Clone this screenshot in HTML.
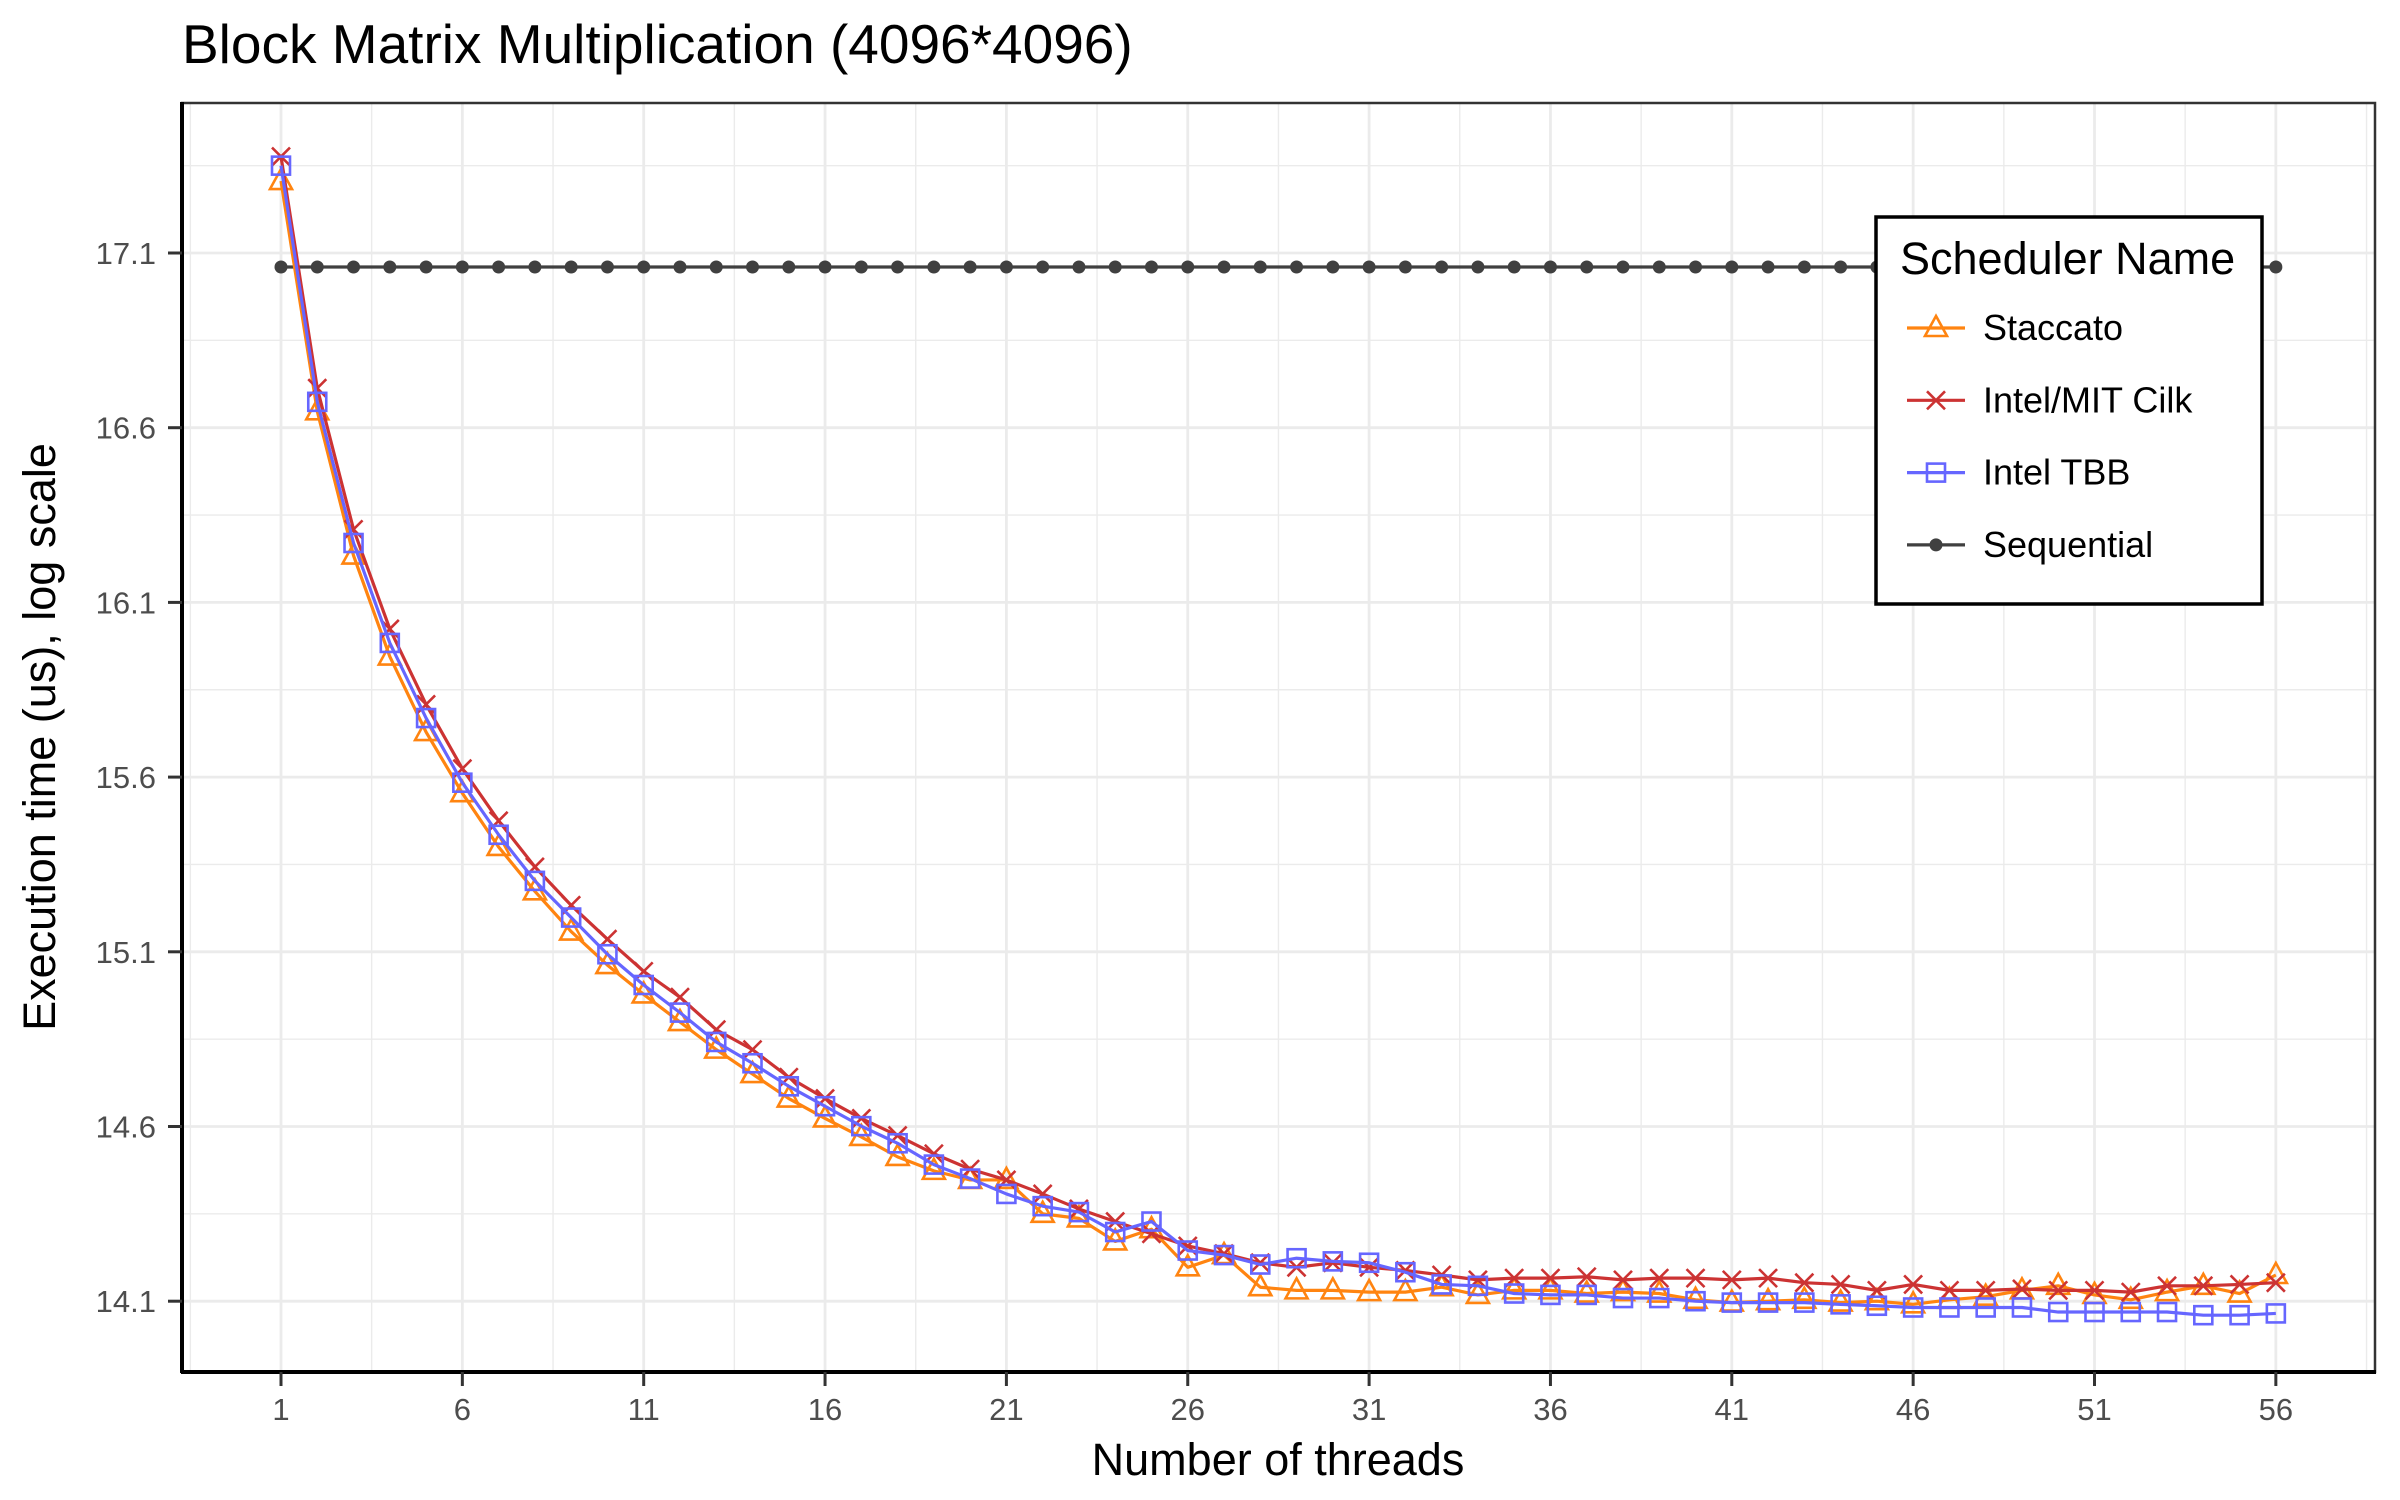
<!DOCTYPE html>
<html><head><meta charset="utf-8">
<style>
html,body{margin:0;padding:0;background:#fff;overflow:hidden;}
svg{display:block;font-family:"Liberation Sans",sans-serif;}
</style></head>
<body>
<svg id="chart" width="2400" height="1500" viewBox="0 0 2400 1500" xmlns="http://www.w3.org/2000/svg">
<defs><clipPath id="panelClip"><rect x="182" y="103" width="2193" height="1269"/></clipPath></defs>
<rect x="0" y="0" width="2400" height="1500" fill="#fff"/>
<text x="182" y="63" font-size="55" fill="#000">Block Matrix Multiplication (4096*4096)</text>
<rect x="182" y="103" width="2193" height="1269" fill="#fff"/>
<g id="grid" clip-path="url(#panelClip)"></g>
<g id="series" clip-path="url(#panelClip)"></g>
<rect x="182" y="103" width="2193" height="1269" fill="none" stroke="#333" stroke-width="2.5"/>
<line x1="181" y1="1372" x2="2376" y2="1372" stroke="#000" stroke-width="4"/>
<line x1="182" y1="102" x2="182" y2="1373" stroke="#000" stroke-width="4"/>
<g id="axes"></g>
<text x="1278" y="1475" font-size="45" text-anchor="middle" fill="#000">Number of threads</text>
<text transform="translate(55,737) rotate(-90)" font-size="45" text-anchor="middle" fill="#000">Execution time (us), log scale</text>
<g>
<rect x="1876" y="217" width="386" height="387" fill="#fff" stroke="#000" stroke-width="3.5"/>
<text x="1900" y="274" font-size="45" fill="#000">Scheduler Name</text>
<g id="legend-items"></g>
</g>
</svg>
<script>
const threads = Array.from({length:56},(_,i)=>i+1);
const xTicks = [1,6,11,16,21,26,31,36,41,46,51,56];
const yTicks = [14.1,14.6,15.1,15.6,16.1,16.6,17.1];
const yTickLabels = ["14.1","14.6","15.1","15.6","16.1","16.6","17.1"];
const staccato = [17.306,16.647,16.234,15.945,15.729,15.554,15.400,15.273,15.158,15.062,14.978,14.899,14.820,14.750,14.680,14.623,14.570,14.513,14.473,14.447,14.447,14.350,14.337,14.271,14.306,14.197,14.232,14.140,14.131,14.131,14.126,14.126,14.140,14.118,14.131,14.131,14.122,14.126,14.122,14.104,14.096,14.100,14.104,14.096,14.100,14.091,14.104,14.113,14.131,14.144,14.118,14.104,14.126,14.144,14.122,14.175];
const cilk = [17.376,16.713,16.309,16.024,15.808,15.624,15.475,15.343,15.233,15.136,15.044,14.970,14.877,14.820,14.741,14.680,14.623,14.574,14.522,14.478,14.447,14.407,14.364,14.328,14.293,14.258,14.236,14.210,14.197,14.210,14.197,14.188,14.175,14.161,14.166,14.166,14.170,14.161,14.166,14.166,14.161,14.166,14.153,14.148,14.131,14.148,14.131,14.131,14.135,14.131,14.131,14.126,14.144,14.144,14.148,14.153];
const tbb = [17.350,16.674,16.270,15.984,15.769,15.584,15.435,15.303,15.198,15.093,15.005,14.926,14.842,14.781,14.715,14.658,14.601,14.552,14.491,14.451,14.407,14.372,14.355,14.298,14.328,14.245,14.232,14.205,14.223,14.214,14.210,14.183,14.148,14.144,14.122,14.118,14.118,14.109,14.109,14.100,14.096,14.096,14.096,14.091,14.087,14.082,14.082,14.082,14.082,14.069,14.069,14.069,14.069,14.060,14.060,14.065];
const sequential = Array(56).fill(17.06);

const NS="http://www.w3.org/2000/svg";
function X(n){return 281+(n-1)*36.27;}
function Y(v){return 253+(17.1-v)*349.4;}
function mk(tag,attrs,parent){const e=document.createElementNS(NS,tag);for(const k in attrs)e.setAttribute(k,attrs[k]);parent.appendChild(e);return e;}

const grid=document.getElementById('grid');
for(let i=0;i<yTicks.length+1;i++){
  const v=yTicks[0]-0.25+i*0.5;
  const l=mk('line',{x1:182,x2:2375,y1:Y(v),y2:Y(v),stroke:'#ebebeb','stroke-width':1.4},grid);
  
  
}
for(let i=0;i<xTicks.length+1;i++){
  const n=xTicks[0]-2.5+i*5;
  const l=mk('line',{x1:X(n),x2:X(n),y1:103,y2:1372,stroke:'#ebebeb','stroke-width':1.4},grid);
  
  
}
yTicks.forEach(v=>{
  const l=mk('line',{x1:182,x2:2375,y1:Y(v),y2:Y(v),stroke:'#ebebeb','stroke-width':2.8},grid);
  
  
});
xTicks.forEach(n=>{
  const l=mk('line',{x1:X(n),x2:X(n),y1:103,y2:1372,stroke:'#ebebeb','stroke-width':2.8},grid);
  
  
});

const axes=document.getElementById('axes');
yTicks.forEach((v,i)=>{
  const t=mk('line',{x1:168,x2:182,y1:Y(v),y2:Y(v),stroke:'#333','stroke-width':3},axes);
  
  
  const tx=mk('text',{x:156,y:Y(v)+11,'font-size':31,'text-anchor':'end',fill:'#4d4d4d'},axes);
  tx.textContent=yTickLabels[i];
  
  
});
xTicks.forEach(n=>{
  const t=mk('line',{x1:X(n),x2:X(n),y1:1372,y2:1386,stroke:'#333','stroke-width':3},axes);
  
  
  const tx=mk('text',{x:X(n),y:1420,'font-size':31,'text-anchor':'middle',fill:'#4d4d4d'},axes);
  tx.textContent=String(n);
  
  
});

function marker(type,cx,cy,color,parent){
  let e;
  if(type==='tri'){
    e=mk('polygon',{points:`${cx},${cy-12} ${cx-11},${cy+8} ${cx+11},${cy+8}`,fill:'none',stroke:color,'stroke-width':2.6},parent);
  }else if(type==='x'){
    e=mk('path',{d:`M${cx-9},${cy-9}L${cx+9},${cy+9}M${cx-9},${cy+9}L${cx+9},${cy-9}`,stroke:color,'stroke-width':2.6,fill:'none'},parent);
  }else if(type==='sq'){
    e=mk('rect',{x:cx-9,y:cy-9,width:18,height:18,fill:'none',stroke:color,'stroke-width':2.6},parent);
  }else{
    e=mk('circle',{cx:cx,cy:cy,r:6.5,fill:color},parent);
  }
  return e;
}

const seriesDefs=[
  {name:'sequential',vals:sequential,color:'#404040',m:'dot',label:'Sequential'},
  {name:'staccato',vals:staccato,color:'#ff8410',m:'tri',label:'Staccato'},
  {name:'cilk',vals:cilk,color:'#cc3333',m:'x',label:'Intel/MIT Cilk'},
  {name:'tbb',vals:tbb,color:'#6666ff',m:'sq',label:'Intel TBB'}
];
const sg=document.getElementById('series');
seriesDefs.forEach(s=>{
  const g=mk('g',{},sg);
  
  
  const pts=s.vals.map((v,i)=>X(threads[i])+','+Y(v)).join(' ');
  const pl=mk('polyline',{points:pts,fill:'none',stroke:s.color,'stroke-width':3.2,'stroke-linejoin':'round'},g);
  
  
  s.vals.forEach((v,i)=>{
    const e=marker(s.m,X(threads[i]),Y(v),s.color,g);
    
    
  });
});

const li=document.getElementById('legend-items');
const order=[1,2,3,0];
order.forEach((idx,r)=>{
  const s=seriesDefs[idx];
  const cy=328+r*72.3;
  const g=mk('g',{},li);
  
  
  mk('line',{x1:1907,x2:1965,y1:cy,y2:cy,stroke:s.color,'stroke-width':3.2},g);
  marker(s.m,1936,cy,s.color,g);
  const t=mk('text',{x:1983,y:cy+12,'font-size':36,fill:'#000'},g);
  t.textContent=s.label;
  
  
});
</script>
</body></html>
